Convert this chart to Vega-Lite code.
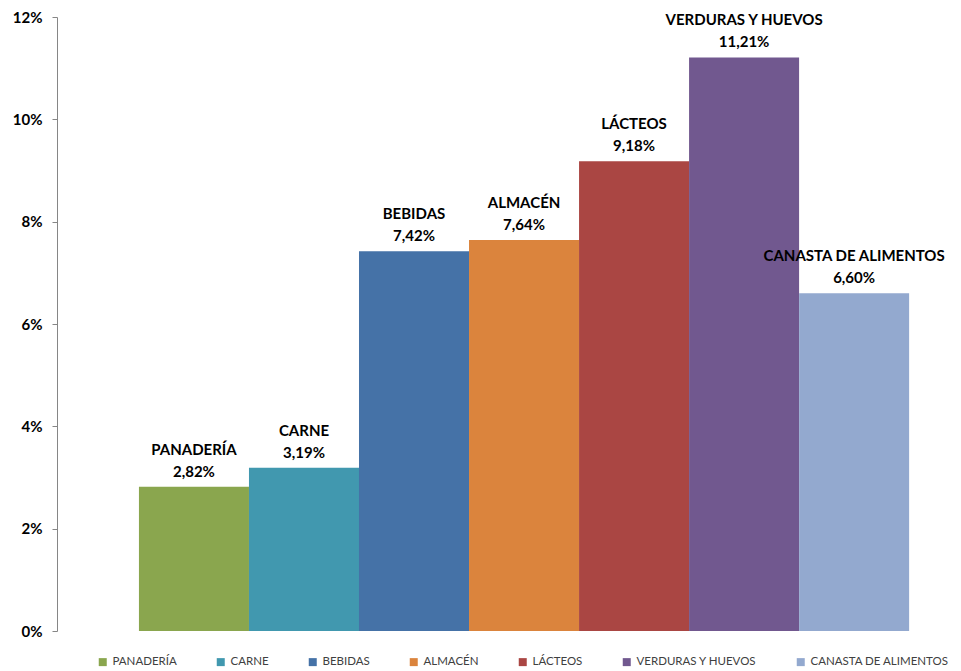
{
  "$schema": "https://vega.github.io/schema/vega-lite/v6.json",
  "autosize": "none",
  "width": 878,
  "height": 614,
  "padding": {"left": 57, "top": 17, "right": 26, "bottom": 40},
  "data": {
    "values": [
      {"categoria": "PANADERÍA", "variacion": 0.0282},
      {"categoria": "CARNE", "variacion": 0.0319},
      {"categoria": "BEBIDAS", "variacion": 0.0742},
      {"categoria": "ALMACÉN", "variacion": 0.0764},
      {"categoria": "LÁCTEOS", "variacion": 0.0918},
      {"categoria": "VERDURAS Y HUEVOS", "variacion": 0.1121},
      {"categoria": "CANASTA DE ALIMENTOS", "variacion": 0.066}
    ]
  },
  "encoding": {
    "x": {
      "field": "categoria",
      "type": "nominal",
      "sort": null,
      "axis": null,
      "scale": {"paddingInner": 0, "paddingOuter": 0.49, "align": 0.76}
    },
    "y": {
      "field": "variacion",
      "type": "quantitative",
      "scale": {"domain": [0, 0.12]},
      "axis": {
        "title": null,
        "values": [0, 0.02, 0.04, 0.06, 0.08, 0.1, 0.12],
        "format": ".0%",
        "grid": false,
        "domainColor": "#868686",
        "tickColor": "#868686",
        "tickSize": 5,
        "labelPadding": 10,
        "labelFont": "Lato",
        "labelFontSize": 15,
        "labelFontWeight": "bold",
        "labelColor": "#000000"
      }
    }
  },
  "layer": [
    {
      "mark": {"type": "bar"},
      "encoding": {
        "color": {
          "field": "categoria",
          "type": "nominal",
          "sort": null,
          "scale": {
            "domain": ["PANADERÍA", "CARNE", "BEBIDAS", "ALMACÉN", "LÁCTEOS", "VERDURAS Y HUEVOS", "CANASTA DE ALIMENTOS"],
            "range": ["#8AA64E", "#4198AF", "#4572A7", "#DB843D", "#AA4643", "#71588F", "#93A9CF"]
          },
          "legend": {
            "title": null,
            "orient": "none",
            "direction": "horizontal",
            "legendX": 40,
            "legendY": 639,
            "symbolType": "square",
            "symbolSize": 64,
            "symbolStrokeWidth": 0,
            "labelFont": "Lato",
            "labelFontSize": 11.5,
            "labelColor": "#404040",
            "labelOffset": 4,
            "labelLimit": 200,
            "columnPadding": 38
          }
        }
      }
    },
    {
      "mark": {"type": "text", "baseline": "alphabetic", "dy": -32, "font": "Lato", "fontSize": 15, "fontWeight": "bold", "color": "#000000"},
      "encoding": {"text": {"field": "categoria"}}
    },
    {
      "mark": {"type": "text", "baseline": "alphabetic", "dy": -10, "font": "Lato", "fontSize": 15, "fontWeight": "bold", "color": "#000000"},
      "encoding": {"text": {"field": "variacion", "type": "quantitative", "format": ".2%"}}
    }
  ],
  "config": {
    "view": {"stroke": null},
    "locale": {
      "number": {"decimal": ",", "thousands": ".", "grouping": [3], "currency": ["", " €"]}
    }
  }
}
